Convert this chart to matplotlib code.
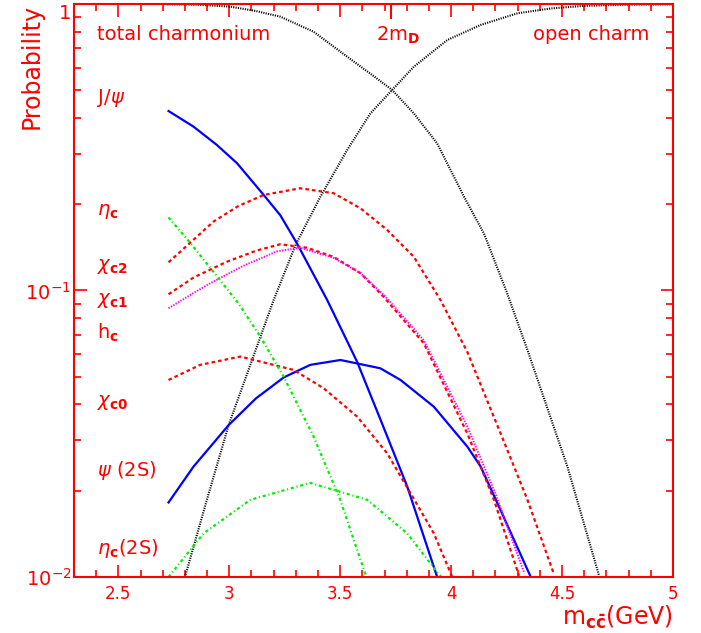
import matplotlib
matplotlib.use("Agg")
import matplotlib.pyplot as plt
from matplotlib.ticker import FixedLocator, MultipleLocator, NullFormatter

# values (x = m_ccbar in GeV, y = probability)
total_x = [2.72, 2.85, 3.004, 3.12, 3.23, 3.38, 3.531, 3.651, 3.734, 3.832, 3.937, 4.058, 4.148, 4.25, 4.344, 4.524, 4.667]
total_y = [0.998, 0.995, 0.979, 0.945, 0.903, 0.80, 0.655, 0.56, 0.501, 0.415, 0.326, 0.2126, 0.158, 0.099, 0.062, 0.0243, 0.0101]

open_x = [2.80, 2.899, 2.997, 3.20, 3.30, 3.411, 3.531, 3.636, 3.734, 3.832, 3.983, 4.133, 4.299, 4.45, 4.6, 4.8, 5.0]
open_y = [0.01, 0.0186, 0.0339, 0.0926, 0.145, 0.2126, 0.309, 0.415, 0.501, 0.604, 0.749, 0.845, 0.928, 0.965, 0.985, 0.995, 0.998]

jpsi_x = [2.726, 2.839, 2.944, 3.035, 3.155, 3.23, 3.305, 3.441, 3.576, 3.681, 3.802, 3.937]
jpsi_y = [0.423, 0.373, 0.322, 0.278, 0.2155, 0.183, 0.146, 0.0927, 0.0564, 0.0355, 0.0207, 0.01]

psi2s_x = [2.726, 2.839, 2.997, 3.12, 3.245, 3.365, 3.501, 3.681, 3.772, 3.922, 4.073, 4.133, 4.223, 4.359]
psi2s_y = [0.0182, 0.0243, 0.0339, 0.0420, 0.0497, 0.055, 0.0572, 0.0535, 0.0487, 0.0393, 0.0285, 0.0243, 0.0171, 0.01]

etac_x = [2.726, 2.929, 3.04, 3.155, 3.32, 3.471, 3.591, 3.712, 3.832, 3.952, 4.073, 4.223, 4.344, 4.464]
etac_y = [0.1254, 0.174, 0.197, 0.2155, 0.2274, 0.2184, 0.1936, 0.1626, 0.131, 0.0926, 0.061, 0.0317, 0.0186, 0.0102]

chic2_x = [2.726, 2.839, 2.989, 3.125, 3.23, 3.35, 3.47, 3.591, 3.696, 3.877, 4.073, 4.193, 4.306]
chic2_y = [0.097, 0.111, 0.126, 0.138, 0.145, 0.141, 0.131, 0.115, 0.095, 0.0654, 0.0317, 0.0186, 0.0101]

chic1_x = [2.726, 2.839, 2.914, 3.064, 3.215, 3.32, 3.47, 3.591, 3.70, 3.877, 4.073, 4.20, 4.33]
chic1_y = [0.0867, 0.098, 0.106, 0.122, 0.137, 0.141, 0.130, 0.115, 0.096, 0.067, 0.0335, 0.0195, 0.0103]

chic0_x = [2.726, 2.869, 3.05, 3.29, 3.425, 3.576, 3.712, 3.817, 3.922, 4.005]
chic0_y = [0.0487, 0.055, 0.0588, 0.0528, 0.0456, 0.0363, 0.027, 0.0196, 0.0142, 0.01]

green_x = [2.726, 2.824, 2.929, 3.042, 3.14, 3.245, 3.38, 3.50, 3.614]
green_y = [0.18, 0.1465, 0.116, 0.090, 0.069, 0.050, 0.0309, 0.0186, 0.0102]

etac2s_x = [2.726, 2.884, 3.095, 3.365, 3.621, 3.802, 3.937, 3.955]
etac2s_y = [0.01, 0.0142, 0.0186, 0.0213, 0.0186, 0.0142, 0.0104, 0.01]

state_labels = [r'J/$\psi$', r'$\eta_{\mathbf{c}}$', r'$\chi_{\mathbf{c2}}$', r'$\chi_{\mathbf{c1}}$',
                r'h$_{\mathbf{c}}$', r'$\chi_{\mathbf{c0}}$', r'$\psi$ (2S)', r'$\eta_{\mathbf{c}}$(2S)']
state_label_y = [0.47, 0.188, 0.121, 0.0926, 0.0711, 0.0405, 0.0236, 0.0126]

two_md = 3.73

RED = '#ff0000'
plt.rcParams['lines.scale_dashes'] = False
plt.rcParams['mathtext.fontset'] = 'dejavusans'

fig = plt.figure(figsize=(7.01, 6.33), dpi=100)
ax = fig.add_axes([0.1056, 0.0885, 0.8544, 0.9052])

ax.plot(total_x, total_y, color='black', lw=1.5, dashes=(0.8, 0.9))
ax.plot(open_x, open_y, color='black', lw=1.5, dashes=(0.8, 0.9))
ax.plot(jpsi_x, jpsi_y, color='#0000ff', lw=1.6)
ax.plot(psi2s_x, psi2s_y, color='#0000ff', lw=1.6)
ax.plot(etac_x, etac_y, color=RED, lw=1.6, dashes=(2.6, 2.2))
ax.plot(chic2_x, chic2_y, color=RED, lw=1.6, dashes=(2.6, 2.2))
ax.plot(chic0_x, chic0_y, color=RED, lw=1.6, dashes=(2.6, 2.2))
ax.plot(chic1_x, chic1_y, color='#ff00ff', lw=1.4, dashes=(1.0, 1.0))
ax.plot(green_x, green_y, color='#00ee00', lw=1.6, dashes=(2.2, 2.0, 0.8, 2.0))
ax.plot(etac2s_x, etac2s_y, color='#00ee00', lw=1.6, dashes=(2.2, 2.0, 0.8, 2.0))

ax.set_xlim(2.3, 5.0)
ax.set_ylim(0.01, 1.0)
ax.set_yscale('log')

# frame and ticks in red, on all four sides
for s in ax.spines.values():
    s.set_color(RED)
    s.set_linewidth(1.5)
ax.xaxis.set_major_locator(FixedLocator([2.5, 3.0, 3.5, 4.0, 4.5, 5.0]))
ax.xaxis.set_minor_locator(MultipleLocator(0.1))
ax.set_xticklabels(['2.5', '3', '3.5', '4', '4.5', '5'])
ax.set_yticks([0.01, 0.1, 1.0])
ax.set_yticklabels([r'$10^{-2}$', r'$10^{-1}$', '1'])
ax.yaxis.set_minor_formatter(NullFormatter())
ax.tick_params(which='both', direction='in', top=True, right=True, colors=RED,
               labelcolor=RED, labelsize=12, width=1.2)
ax.tick_params(which='major', length=9)
ax.tick_params(which='minor', length=5)
ax.tick_params(axis='y', which='major', labelsize=14, pad=2)
ax.tick_params(axis='x', which='major', pad=6)
ax.get_yticklabels()[-1].set_verticalalignment('top')

# long tick on top marking the open-charm threshold
ax.axvline(two_md, ymin=0.975, ymax=1.0, color=RED, lw=1.5)

ax.set_xlabel(r'm$_{\mathbf{c\bar{c}}}$(GeV)', color=RED, fontsize=17, loc='right')
ax.xaxis.set_label_coords(1.0, -0.046)
ax.set_ylabel('Probability', color=RED, fontsize=17, loc='top')
ax.yaxis.set_label_coords(-0.05, 1.0)

ax.text(2.404, 0.78, 'total charmonium', color=RED, fontsize=14, va='center')
ax.text(3.66, 0.78, r'2m$_{\mathbf{D}}$', color=RED, fontsize=14, va='center')
ax.text(4.368, 0.78, 'open charm', color=RED, fontsize=14, va='center')
for lab, yy in zip(state_labels, state_label_y):
    ax.text(2.404, yy, lab, color=RED, fontsize=14, va='center')

fig.savefig('out.png', dpi=100)
